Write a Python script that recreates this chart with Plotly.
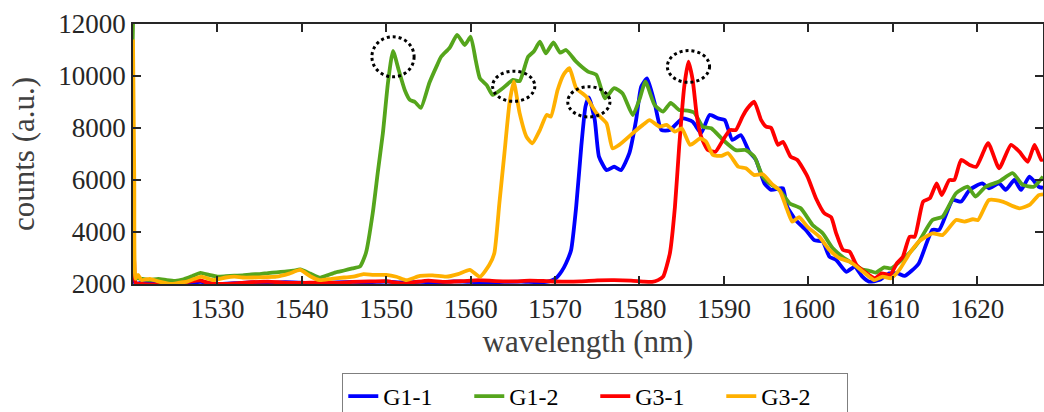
import plotly.graph_objects as go

# ---------------- data ----------------
g11_x = [1520.0, 1520.3, 1521, 1523, 1525, 1527, 1528, 1530, 1532, 1534, 1536, 1538, 1540, 1542, 1544,
         1546, 1548, 1550, 1552, 1554, 1556, 1558, 1560, 1562, 1564, 1566, 1568, 1569.3, 1570.1, 1570.8,
         1571.3, 1571.9, 1572.5, 1573.1, 1573.6, 1574.0, 1574.7, 1575.2, 1576.1, 1577.0, 1577.8, 1578.8,
         1579.6, 1580.2, 1580.9, 1581.8, 1582.6, 1583.6, 1585.1, 1586.3, 1587.3, 1588.3, 1589.3, 1590.1,
         1591.0, 1592.0, 1593.0, 1593.8, 1594.8, 1595.6, 1596.6, 1597.0, 1597.5, 1598.5, 1599.7, 1600.7,
         1601.7, 1602.5, 1603.3, 1604.5, 1605.5, 1606.4, 1607.2, 1608.4, 1609.6, 1610.6, 1611.4, 1612.2,
         1613.1, 1614.7, 1615.5, 1617.1, 1618.1, 1619.1, 1620.6, 1621.4, 1622.6, 1623.4, 1624.4, 1625.2,
         1626.2, 1627.3, 1627.8]
g11_y = [2400, 2000, 2050, 2020, 1980, 2050, 2080, 2000, 2030, 2060, 2040, 2070, 2050, 2030, 2060,
         2080, 2070, 2090, 2060, 2080, 2060, 2100, 2080, 2060, 2080, 2090, 2070, 2100, 2220, 2500,
         2800, 3310, 4970, 7280, 8820, 9180, 8310, 6900, 6380, 6510, 6380, 7030,
         8310, 9590, 9910, 8950, 7920, 7920, 8370, 8240, 7800, 8500, 8370, 8310,
         7540, 7730, 7090, 6770, 5870, 5620, 5680, 5680, 4970, 4460, 4080, 3690,
         3630, 3050, 2920, 2470, 2670, 2280, 2090, 2150, 2410, 2410, 2310, 2500,
         2800, 4080, 4080, 5230, 5170, 5620, 5870, 5680, 5870, 5620, 6000, 5620,
         6130, 5740, 5700]

g12_x = [1520.0, 1520.2, 1521, 1522, 1523, 1524, 1525, 1526, 1527, 1528, 1529, 1530, 1531, 1532, 1533,
         1534, 1535, 1536, 1537, 1538, 1539, 1539.8, 1541, 1542.1, 1543, 1544, 1545, 1546, 1546.9, 1547.6,
         1548.4, 1549.0, 1549.6, 1550.2, 1550.8, 1551.5, 1552.2, 1552.8, 1553.4, 1554.1, 1555.1, 1556.0,
         1556.5, 1557.5, 1558.4, 1559.3, 1560.0, 1560.6, 1561.1, 1561.9, 1562.6, 1563.8, 1565.0, 1565.8,
         1566.8, 1567.5, 1568.2, 1568.9, 1569.8, 1570.6, 1571.3, 1572.5, 1573.9, 1574.9, 1575.9, 1577.0,
         1578.0, 1579.2, 1580.0, 1580.7, 1581.8, 1582.8, 1583.7, 1584.7, 1585.7, 1586.5, 1587.5, 1588.5,
         1589.9, 1591.4, 1592.6, 1593.6, 1594.6, 1595.4, 1596.6, 1597.8, 1599.1, 1600.5, 1601.7, 1602.9,
         1604.1, 1605.2, 1606.4, 1607.2, 1608.0, 1609.0, 1609.8, 1610.8, 1612.0, 1613.1, 1614.7, 1615.9,
         1617.5, 1618.9, 1619.8, 1621.0, 1622.6, 1624.2, 1625.4, 1626.7, 1627.8]
g12_y = [12000, 2250, 2200, 2150, 2200, 2150, 2120, 2180, 2300, 2430, 2350, 2280, 2300, 2320, 2330,
         2370, 2380, 2420, 2450, 2480, 2510, 2560, 2400, 2240, 2330, 2450, 2520, 2600, 2680, 3200,
         4730, 6300, 7800, 9730, 10970, 10200, 9450, 9080, 9000, 8770, 9730, 10400,
         10740, 11080, 11580, 11190, 11510, 10600, 9910, 9650, 9270, 9530, 9850, 9800,
         10740, 10950, 11320, 10870, 11290, 10900, 11000, 10550, 10170, 10040, 9140, 9530,
         9330, 8500, 9100, 9780, 8880, 8630, 8970, 8690, 8670, 8590, 8050, 7990,
         7540, 7150, 7150, 6900, 6130, 5870, 5600, 5100, 4910, 4270, 3950, 3370,
         3030, 2800, 2560, 2510, 2440, 2640, 2600, 2850, 3200, 3630, 4460, 4590,
         5490, 5740, 5360, 5740, 5940, 6260, 5810, 5740, 6130]

g31_x = [1520.0, 1520.15, 1520.3, 1521, 1523, 1525, 1526.5, 1528, 1529, 1531, 1534, 1536, 1538, 1540,
         1542, 1544, 1546, 1548, 1550, 1551, 1552, 1553.5, 1555, 1557, 1559, 1561, 1563, 1565, 1567,
         1569, 1571, 1573, 1575, 1577, 1579, 1580.5, 1581.5, 1582.2, 1582.8, 1583.6, 1584.2, 1584.7,
         1585.3, 1585.8, 1586.3, 1586.8, 1587.3, 1588.1, 1589.0, 1589.9, 1590.7, 1591.4, 1592.2, 1592.8,
         1593.6, 1594.4, 1595.0, 1595.6, 1596.4, 1597.0, 1597.9, 1598.7, 1599.9, 1600.9, 1601.9, 1602.7,
         1603.3, 1604.1, 1604.9, 1605.7, 1606.9, 1607.9, 1608.7, 1609.7, 1610.5, 1611.2, 1612.0, 1612.6,
         1613.6, 1614.4, 1615.2, 1615.8, 1616.7, 1617.3, 1618.1, 1619.1, 1619.9, 1621.3, 1622.6, 1624.0,
         1625.0, 1626.0, 1626.8, 1627.6, 1627.8]
g31_y = [3800, 2800, 2050, 2000, 1980, 2000, 2080, 2140, 2030, 2000, 2070, 2090, 2050, 2040,
         2060, 2040, 2080, 2100, 2110, 2060, 2020, 2080, 2130, 2080, 2110, 2150, 2110, 2100, 2130,
         2110, 2090, 2100, 2140, 2150, 2130, 2090, 2080, 2150, 2280, 3180, 4970, 7280,
         9590, 10550, 9850, 8440, 7670, 7150, 7090, 7540, 7920, 7920, 8440, 8760,
         9010, 8310, 8050, 8000, 7350, 7470, 6900, 6770, 6130, 5300, 4720, 4570,
         3950, 3310, 3240, 2730, 2410, 2220, 2410, 2350, 2800, 3050, 3820, 3820,
         5170, 5300, 5870, 5420, 6000, 6000, 6770, 6580, 6510, 7420, 6450, 7350,
         7090, 6700, 7350, 6770, 6800]

g32_x = [1520.0, 1520.15, 1520.3, 1520.6, 1521, 1522, 1523, 1524.4, 1525.5, 1526.4, 1527.3, 1528.1,
         1529.5, 1531, 1532, 1533, 1534.2, 1535.5, 1537, 1538.5, 1539.8, 1541, 1542.1, 1543.5, 1545,
         1546.1, 1547.3, 1548.5, 1550, 1551.2, 1552.4, 1554, 1555.5, 1557.1, 1558.5, 1559.9, 1561.1,
         1562.2, 1562.8, 1563.4, 1564.0, 1564.6, 1565.1, 1565.8, 1566.6, 1567.3, 1568.2, 1569.0, 1569.5,
         1570.3, 1571.0, 1571.7, 1572.5, 1573.7, 1574.9, 1576.1, 1576.8, 1577.6, 1579.2, 1580.4, 1581.2,
         1582.4, 1583.2, 1584.2, 1585.0, 1586.0, 1587.2, 1587.9, 1588.7, 1589.7, 1590.5, 1591.7, 1592.6,
         1593.6, 1594.6, 1595.8, 1596.6, 1597.5, 1598.1, 1598.9, 1599.9, 1601.3, 1602.5, 1603.7, 1604.9,
         1606.0, 1607.2, 1607.8, 1608.8, 1609.8, 1610.8, 1612.0, 1613.1, 1614.7, 1615.9, 1617.5, 1618.5,
         1619.5, 1620.1, 1621.4, 1623.0, 1625.0, 1626.2, 1627.3, 1627.8]
g32_y = [11400, 6000, 2200, 2350, 2150, 2200, 2100, 2000, 2050, 2090, 2200, 2280,
         2150, 2250, 2280, 2250, 2250, 2260, 2280, 2400, 2540, 2300, 2150, 2200, 2250,
         2280, 2380, 2350, 2350, 2280, 2150, 2310, 2330, 2280, 2380, 2540, 2280,
         2730, 3180, 5100, 7030, 8950, 9780, 8570, 7670, 7410, 7920, 8500, 8440,
         9460, 10050, 10300, 9530, 9200, 8570, 8180, 7220, 7350, 7800, 8120, 8300,
         8050, 8120, 7860, 7990, 7350, 7600, 7470, 6960, 6930, 7030, 6510, 6450,
         6190, 6220, 5810, 5600, 4850, 4400, 4570, 4200, 3820, 3310, 2990, 2860,
         2600, 2280, 2150, 2280, 2220, 2550, 3180, 3630, 3950, 3880, 4460, 4400,
         4490, 4460, 5230, 5170, 4910, 5040, 5420, 5450]

series_names = ["G1-1", "G1-2", "G3-1", "G3-2"]
series_x = [g11_x, g12_x, g31_x, g32_x]
series_y = [g11_y, g12_y, g31_y, g32_y]
series_colors = ["#0000FF", "#55A51C", "#FF0000", "#FFB000"]

# marked peaks: (series index, wavelength window)
peak_marks = [(1, (1549, 1553)), (3, (1563, 1567)), (0, (1572, 1576)), (2, (1584, 1588))]
peak_ry = [770, 580, 580, 610]

x_ticks = [1530, 1540, 1550, 1560, 1570, 1580, 1590, 1600, 1610, 1620]
y_ticks = [2000, 4000, 6000, 8000, 10000, 12000]
y_tick_text = ["2000", "4000", "6000", "8000", "10000", "12000"]

# ---------------- figure ----------------
fig = go.Figure()
for name, xs, ys, col in zip(series_names, series_x, series_y, series_colors):
    fig.add_trace(go.Scatter(x=xs, y=ys, name=name, mode="lines",
                             line=dict(color=col, width=3.8, shape="spline", smoothing=0.5)))

shapes = []
for (si, (lo, hi)), ry in zip(peak_marks, peak_ry):
    pts = [(x, y) for x, y in zip(series_x[si], series_y[si]) if lo <= x <= hi]
    px, py = max(pts, key=lambda p: p[1])
    cy = py - 0.3 * ry
    rx = 2.5
    shapes.append(dict(type="circle", xref="x", yref="y",
                       x0=px - rx, x1=px + rx, y0=cy - ry, y1=cy + ry,
                       line=dict(color="black", width=3, dash="dot")))

axis_col = "#262626"
serif = "Liberation Serif, Times New Roman, serif"
tick_font = dict(family=serif, size=27, color=axis_col)
title_font = dict(family=serif, size=31, color="#404040")

fig.update_layout(
    width=1044, height=412,
    margin=dict(l=133, r=1, t=24, b=128, autoexpand=False),
    paper_bgcolor="white", plot_bgcolor="white",
    shapes=shapes,
    showlegend=True,
    legend=dict(orientation="h", x=0.508, xanchor="center",
                yref="container", y=1 - 373 / 412, yanchor="top",
                font=dict(family=serif, size=24, color="black"),
                bordercolor="#7f7f7f", borderwidth=1, bgcolor="white",
                entrywidth=81, entrywidthmode="pixels", tracegroupgap=0),
)
fig.update_xaxes(range=[1520, 1627.8], tickvals=x_ticks, ticks="inside", ticklen=8, tickwidth=1.5,
                 tickcolor=axis_col, showline=True, linecolor=axis_col, linewidth=1.5, mirror="ticks",
                 showgrid=False, zeroline=False, tickfont=tick_font, automargin=False,
                 title=dict(text="wavelength (nm)", font=title_font, standoff=6))
fig.update_yaxes(range=[2000, 12000], tickvals=y_ticks, ticktext=y_tick_text, ticks="inside",
                 ticklen=8, tickwidth=1.5,
                 tickcolor=axis_col, showline=True, linecolor=axis_col, linewidth=1.5, mirror="ticks",
                 showgrid=False, zeroline=False, tickfont=tick_font, automargin=False,
                 title=dict(text="counts (a.u.)", font=title_font, standoff=14))

fig.write_html("out.html")
